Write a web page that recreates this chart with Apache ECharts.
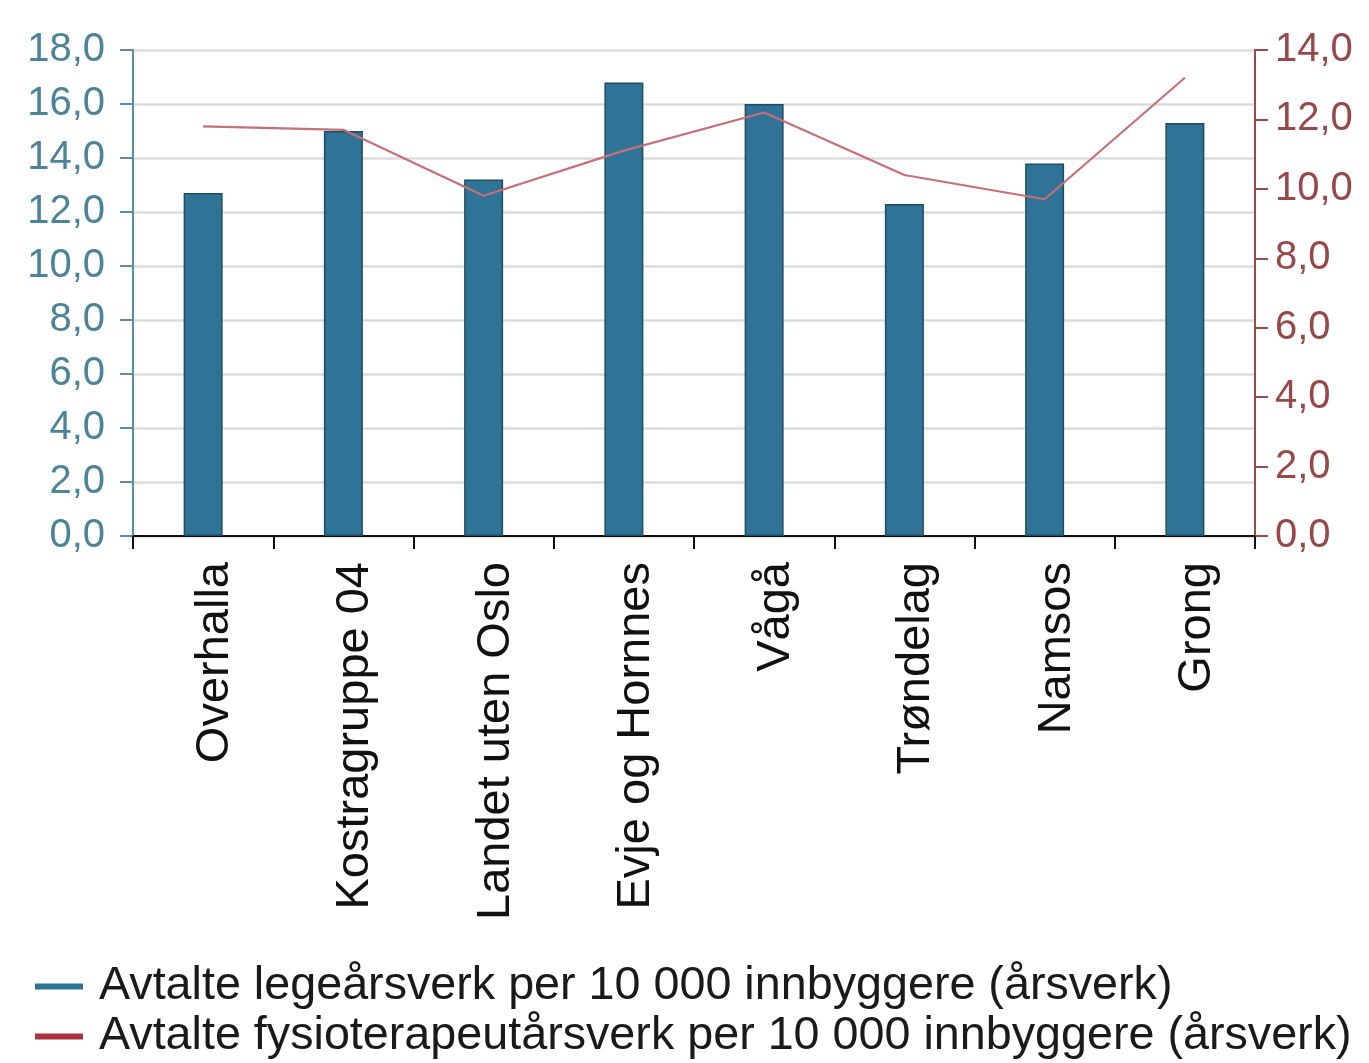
<!DOCTYPE html>
<html>
<head>
<meta charset="utf-8">
<script src="https://cdn.jsdelivr.net/npm/echarts@6/dist/echarts.min.js"></script>
<style>
html,body{margin:0;padding:0;background:#fff;}
#c{width:1369px;height:1063px;}
</style>
</head>
<body>
<div id="c"></div>
<script>
const categories = ["Overhalla","Kostragruppe 04","Landet uten Oslo","Evje og Hornnes","Vågå","Trøndelag","Namsos","Grong"];
const legeValues = [12.7, 15.0, 13.2, 16.8, 16.0, 12.3, 13.8, 15.3];
const fysioValues = [11.8, 11.7, 9.8, 11.1, 12.2, 10.4, 9.7, 13.2];
const seriesNames = ["Avtalte legeårsverk per 10 000 innbyggere (årsverk)","Avtalte fysioterapeutårsverk per 10 000 innbyggere (årsverk)"];

const fmt = v => v.toFixed(1).replace('.', ',');
const FONT = 'Liberation Sans';
const legendBase = {
  orient:'horizontal', left:30, itemWidth:48, itemHeight:6,
  textStyle:{fontFamily:FONT, fontSize:46.7, color:'#1a1a1a', padding:[0,0,0,11]}
};
const chart = echarts.init(document.getElementById('c'), null, {renderer:'canvas'});
chart.setOption({
  backgroundColor:'#ffffff',
  animation:false,
  grid:{left:133, right:114, top:50, bottom:527, containLabel:false},
  legend:[
    Object.assign({}, legendBase, {top:958, data:[{name:seriesNames[0], icon:'rect', itemStyle:{color:'#2f7396', borderWidth:0}}]}),
    Object.assign({}, legendBase, {top:1008, data:[{name:seriesNames[1], icon:'rect', itemStyle:{color:'#a8323c', borderWidth:0}}]})
  ],
  xAxis:{
    type:'category', data:categories,
    axisLine:{lineStyle:{color:'#111', width:2}},
    axisTick:{show:true, alignWithLabel:false, length:13, lineStyle:{color:'#111', width:2}},
    axisLabel:{rotate:90, margin:26, fontFamily:FONT, fontSize:47, color:'#111', interval:0,
               verticalAlign:'top', lineHeight:24}
  },
  yAxis:[
    {type:'value', min:0, max:18, interval:2, position:'left',
     axisLine:{show:true, lineStyle:{color:'#5a8ea3', width:2}},
     axisTick:{show:true, length:13, lineStyle:{color:'#5a8ea3', width:2}},
     axisLabel:{formatter:fmt, margin:28, fontFamily:FONT, fontSize:40, color:'#4b8499'},
     splitLine:{show:true, lineStyle:{color:'#dcdcdc', width:2.5}}},
    {type:'value', min:0, max:14, interval:2, position:'right',
     axisLine:{show:true, lineStyle:{color:'#9a4a4a', width:2}},
     axisTick:{show:true, length:13, lineStyle:{color:'#9a4a4a', width:2}},
     axisLabel:{formatter:fmt, margin:20, fontFamily:FONT, fontSize:40, color:'#974848'},
     splitLine:{show:false}}
  ],
  series:[
    {name:seriesNames[0], type:'bar', yAxisIndex:0, data:legeValues, barWidth:39,
     itemStyle:{color:'#2f7396', borderColor:'#1f4d63', borderWidth:1.5}},
    {name:seriesNames[1], type:'line', yAxisIndex:1, data:fysioValues, symbol:'none',
     lineStyle:{color:'#c46f79', width:2.2}, itemStyle:{color:'#a8323c'}, z:3}
  ]
});
</script>
</body>
</html>
